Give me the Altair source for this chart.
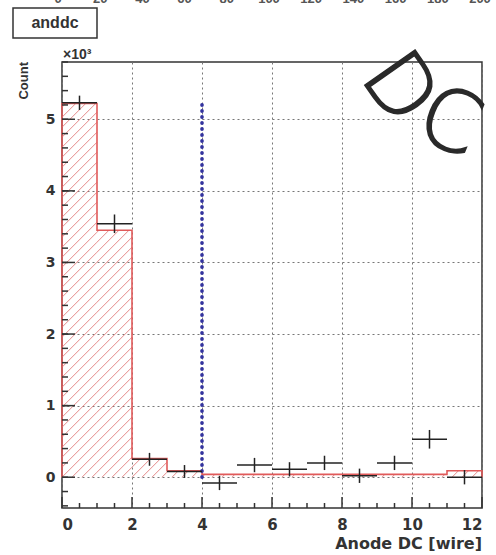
import altair as alt
import pandas as pd

# ---------------- data (values in units of 10^3 counts) ----------------
bin_lo = [0, 1, 2, 3, 4, 5, 6, 7, 8, 9, 10, 11]
bin_hi = [1, 2, 3, 4, 5, 6, 7, 8, 9, 10, 11, 12]
hist_val = [5.22, 3.45, 0.26, 0.09, 0.04, 0.04, 0.04, 0.04, 0.04, 0.04, 0.04, 0.09]

pt_x = [0.5, 1.5, 2.5, 3.5, 4.5, 5.5, 6.5, 7.5, 8.5, 9.5, 10.5, 11.5]
pt_y = [5.23, 3.54, 0.25, 0.08, -0.08, 0.17, 0.11, 0.20, 0.02, 0.20, 0.53, 0.00]
pt_err = [0.10, 0.13, 0.09, 0.09, 0.10, 0.10, 0.10, 0.10, 0.10, 0.10, 0.13, 0.10]
pt_xhalf = [0.5] * 12

cut_x = [4]
cut_lo = [0.0]
cut_hi = [5.25]

x_major = [0, 2, 4, 6, 8, 10, 12]
x_minor = [0.5, 1, 1.5, 2.5, 3, 3.5, 4.5, 5, 5.5, 6.5, 7, 7.5, 8.5, 9, 9.5, 10.5, 11, 11.5]
y_major = [0, 1, 2, 3, 4, 5]
y_minor = [round(-0.4 + 0.2 * i, 2) for i in range(32)]

top_vals = [0, 20, 40, 60, 80, 100, 120, 140, 160, 180, 200]
top_text = ["0", "20", "40", "60", "80", "100", "120", "140", "160", "180", "200"]

# ---------------- layout ----------------
W, H = 420, 446
XMIN, XMAX = 0, 12
YMIN, YMAX = -0.43, 5.8
FONT = "Liberation Sans"
BFONT = "DejaVu Sans"

xs = alt.Scale(domain=[XMIN, XMAX], nice=False, zero=False)
ys = alt.Scale(domain=[YMIN, YMAX], nice=False, zero=False)
X_AX = alt.Axis(values=x_major, grid=True, ticks=False, domain=False, title=None,
                labelFont=BFONT, labelFontWeight="bold", labelFontSize=15,
                labelColor="#333", labelPadding=9, gridColor="#777",
                gridDash=[2, 3], gridWidth=1)
Y_AX = alt.Axis(values=y_major, grid=True, ticks=False, domain=False, title=None,
                labelFont=BFONT, labelFontWeight="bold", labelFontSize=14,
                labelColor="#333", labelPadding=7, gridColor="#777",
                gridDash=[2, 3], gridWidth=1)


def X(f):
    return alt.X(f, type="quantitative", scale=xs, axis=X_AX)


def Y(f):
    return alt.Y(f, type="quantitative", scale=ys, axis=Y_AX)


# hatch lines inside the histogram bars (45 degrees in screen space)
sx = W / (XMAX - XMIN)
sy = H / (YMAX - YMIN)
step = 10.0
rows = []
for lo, hi, v in zip(bin_lo, bin_hi, hist_val):
    u0, u1 = lo * sx, hi * sx
    v0, v1 = 0.0, v * sy
    k = -u1
    k = step * (int(k // step) - 1)
    while k <= v1 - u0 + step:
        a = max(u0, v0 - k)
        b = min(u1, v1 - k)
        if b - a > 0.5:
            rows.append({"x": a / sx, "y": (a + k) / sy, "x2": b / sx, "y2": (b + k) / sy})
        k += step
hatch_df = pd.DataFrame(rows)

# step outline
ox, oy = [bin_lo[0]], [0.0]
for lo, v in zip(bin_lo, hist_val):
    ox.append(lo)
    oy.append(v)
ox += [bin_hi[-1], bin_hi[-1]]
oy += [hist_val[-1], 0.0]
outline_df = pd.DataFrame({"x": ox, "y": oy, "i": list(range(len(ox)))})

pts = pd.DataFrame({"x": pt_x, "y": pt_y})
pts["xlo"] = [a - b for a, b in zip(pt_x, pt_xhalf)]
pts["xhi"] = [a + b for a, b in zip(pt_x, pt_xhalf)]
pts["ylo"] = [a - b for a, b in zip(pt_y, pt_err)]
pts["yhi"] = [a + b for a, b in zip(pt_y, pt_err)]

hatch = alt.Chart(hatch_df).mark_rule(color="#e58a8a", strokeWidth=1).encode(
    x=X("x"), y=Y("y"), x2="x2", y2="y2")

outline = alt.Chart(outline_df).mark_line(interpolate="step-after", color="#e05a5a",
                                          strokeWidth=1.6).encode(
    x=X("x"), y=Y("y"), order="i:Q")

cut = alt.Chart(pd.DataFrame({"x": cut_x, "lo": cut_lo, "hi": cut_hi})).mark_rule(
    color="#33339e", strokeWidth=3.6, strokeDash=[0.5, 5.5], strokeCap="round").encode(
    x=X("x"), y=Y("lo"), y2="hi")

herr = alt.Chart(pts).mark_rule(color="#222", strokeWidth=1.5).encode(
    x=X("xlo"), x2="xhi", y=Y("y"))
verr = alt.Chart(pts).mark_rule(color="#222", strokeWidth=1.5).encode(
    x=X("x"), y=Y("ylo"), y2="yhi")

xmaj = alt.Chart(pd.DataFrame({"v": x_major})).mark_rule(color="#333", strokeWidth=1.5).encode(
    x=X("v"), y=alt.value(H), y2=alt.value(H - 11))
xmin_ = alt.Chart(pd.DataFrame({"v": x_minor})).mark_rule(color="#333", strokeWidth=1.5).encode(
    x=X("v"), y=alt.value(H), y2=alt.value(H - 5))
ymaj = alt.Chart(pd.DataFrame({"v": y_major})).mark_rule(color="#333", strokeWidth=1.5).encode(
    y=Y("v"), x=alt.value(0), x2=alt.value(13))
ymin_ = alt.Chart(pd.DataFrame({"v": y_minor})).mark_rule(color="#333", strokeWidth=1.5).encode(
    y=Y("v"), x=alt.value(0), x2=alt.value(6))

ytitle = alt.Chart(pd.DataFrame({"t": ["Count"]})).mark_text(
    font=FONT, fontWeight="bold", fontSize=13, angle=270,
    align="right", baseline="middle", color="#333").encode(
    text="t:N", x=alt.value(-38), y=alt.value(0))
xtitle = alt.Chart(pd.DataFrame({"t": ["Anode DC [wire]"]})).mark_text(
    font=BFONT, fontWeight="bold", fontSize=16, align="right", baseline="middle",
    color="#333").encode(text="t:N", x=alt.value(W), y=alt.value(482))
expo = alt.Chart(pd.DataFrame({"t": ["×10³"]})).mark_text(
    font=FONT, fontWeight="bold", fontSize=14, align="left", baseline="alphabetic",
    color="#333").encode(text="t:N", x=alt.value(1), y=alt.value(-3))

box = alt.Chart(pd.DataFrame({"t": ["anddc"]})).mark_rect(
    fill="white", stroke="#333", strokeWidth=1.5).encode(
    x=alt.value(-49), x2=alt.value(35), y=alt.value(-54), y2=alt.value(-24))
boxtxt = alt.Chart(pd.DataFrame({"t": ["anddc"]})).mark_text(
    font=FONT, fontWeight="bold", fontSize=16, align="center", baseline="middle",
    color="#333").encode(text="t:N", x=alt.value(-7), y=alt.value(-39))

dtxt = alt.Chart(pd.DataFrame({"t": ["D"]})).mark_text(
    font=BFONT, fontWeight=200, fontSize=84, angle=55, align="center",
    baseline="middle", color="#2a2a2a", stroke="#2a2a2a", strokeWidth=1.6).encode(
    text="t:N", x=alt.value(336), y=alt.value(27))
ctxt = alt.Chart(pd.DataFrame({"t": ["C"]})).mark_text(
    font=BFONT, fontWeight=200, fontSize=84, angle=22, align="center",
    baseline="middle", color="#2a2a2a", stroke="#2a2a2a", strokeWidth=1.6).encode(
    text="t:N", x=alt.value(387), y=alt.value(62))

main = alt.layer(hatch, outline, cut, herr, verr, xmaj, xmin_, ymaj, ymin_,
                 ytitle, xtitle, expo, box, boxtxt, dtxt, ctxt)

top = alt.Chart(pd.DataFrame({"v": top_vals, "t": top_text})).mark_text(
    font=FONT, fontWeight="bold", fontSize=13, baseline="alphabetic", color="#555").encode(
    x=alt.X("v:Q", scale=alt.Scale(domain=[0, 200], range=[-4, 418]), axis=None),
    y=alt.value(-59), text="t:N")

chart = alt.layer(main, top).resolve_scale(x="independent").properties(
    width=W, height=H,
    padding={"left": 62, "top": 62, "right": 14, "bottom": 47},
    autosize=alt.AutoSizeParams(type="none"),
).configure_view(stroke="#333", strokeWidth=1.5)

chart.save("out.html", embed_options={"renderer": "svg", "actions": False})
